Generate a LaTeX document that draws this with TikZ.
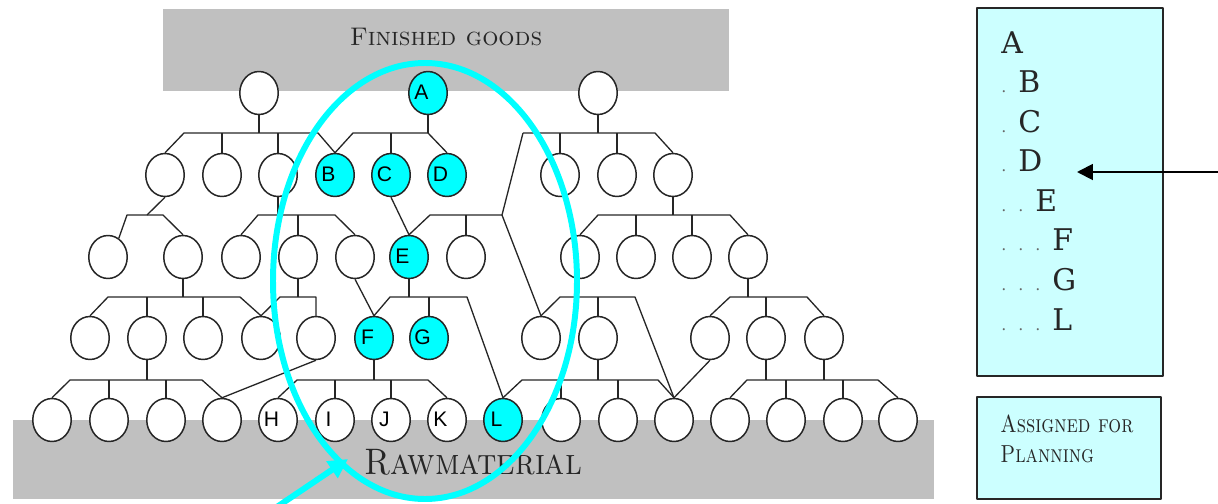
\documentclass[tikz,border=0pt]{standalone}
\usepackage{fontspec}
\usepackage{graphicx}
\newfontfamily\partfont{Liberation Sans}
\newfontfamily\listfont{DejaVu Serif}
\usetikzlibrary{arrows.meta,shapes.geometric}
\definecolor{ink}{HTML}{262626}
\definecolor{band}{HTML}{C0C0C0}
\definecolor{mark}{HTML}{00FFFF}
\definecolor{memo}{HTML}{CCFFFF}
\newcommand{\ldot}{\makebox[9.7pt][l]{\color{ink!70}\small.}}
\newcommand{\lvl}[2]{\ifcase#1\or\ldot\or\ldot\ldot\or\ldot\ldot\ldot\fi#2}
\tikzset{
  >=Latex,
  every picture/.style={line join=round},
  part/.style={ellipse, draw=ink, fill=white, line width=0.85pt,
    minimum width=0.77cm, minimum height=0.86cm, inner sep=0pt},
  tag/.style={font=\partfont\fontsize{12}{12}\selectfont, text=black,
    inner sep=0pt, xshift=-0.13cm, yshift=0.02cm},
  lettered/.style={part, label={[tag]center:#1}},
  planned/.style={part, fill=mark, label={[tag]center:#1}},
  wire/.style={draw=ink, line width=0.75pt},
  bandtxt/.style={font=\fontsize{14.5}{16}\selectfont, text=ink, inner sep=0pt},
  rawtxt/.style={font=\fontsize{21}{24}\selectfont, text=ink, inner sep=0pt},
  memobox/.style={draw=ink, fill=memo, line width=1.1pt, inner sep=0pt},
  listtxt/.style={font=\listfont\fontsize{17}{20}\selectfont, text=ink, inner sep=0pt, anchor=base west},
  memotxt/.style={font=\fontsize{14}{15}\selectfont, text=ink, inner sep=0pt, anchor=base west},
  pointer/.style={draw=black, line width=1.1pt, -{Triangle[length=9pt,width=9pt]}},
  ring/.style={draw=mark, line width=3.4pt},
  ringarrow/.style={draw=mark, line width=3.4pt, -{Triangle[length=11pt,width=11pt]}}
}
\begin{document}
\begin{tikzpicture}[x=0.02cm, y=-0.02cm]
  \clip (0,0) rectangle (1218,504);

  % stock bands
  \fill[band] (163,9) rectangle (729,91);
  \fill[band] (13,420) rectangle (934,499);
  \node[bandtxt, anchor=base] (fg) at (446,45) {\textsc{Finished goods}};
  \node[rawtxt] (rm) at (473,462) {\scalebox{0.89}[1]{\textsc{Rawmaterial}}};

  % product structure
  \foreach \n/\x in {t1/259, t3/598}
    \node[part] (\n) at (\x,93) {};
  \node[planned=A] (A) at (428,93) {};

  \foreach \n/\x in {p1/165, p2/222, p3/278, p7/560, p8/617, p9/673}
    \node[part] (\n) at (\x,175) {};
  \node[planned=B] (B) at (335,175) {};
  \node[planned=C] (C) at (391,175) {};
  \node[planned=D] (D) at (447,175) {};

  \foreach \n/\x in {s1/108, s2/183, s3/241, s4/298, s5/355, s7/466, s8/580, s9/636, s10/692, s11/748}
    \node[part] (\n) at (\x,257) {};
  \node[planned=E] (E) at (409,257) {};

  \foreach \n/\x in {m1/90, m2/147, m3/203, m4/261, m5/316, m8/541, m9/598, m10/710, m11/766, m12/824}
    \node[part] (\n) at (\x,338) {};
  \node[planned=F] (F) at (374,338) {};
  \node[planned=G] (G) at (429,338) {};

  \foreach \n/\x in {r1/52, r2/109, r3/166, r4/222, r10/561, r11/618, r12/674, r13/730, r14/786, r15/843, r16/898}
    \node[part] (\n) at (\x,420) {};
  \node[lettered=H] (H) at (278,420) {};
  \node[lettered=I] (I) at (335,420) {};
  \node[lettered=J] (J) at (391,420) {};
  \node[lettered=K] (K) at (447,420) {};
  \node[planned=L] (L) at (503,420) {};

  % junctions
  \coordinate (j1a) at (184,133);  \coordinate (j1b) at (318,133);
  \coordinate (j2a) at (353,133);  \coordinate (j2b) at (428,133);
  \coordinate (j3a) at (523,133);  \coordinate (j3b) at (655,133);
  \coordinate (j4a) at (127,215);  \coordinate (j4b) at (163,215); \coordinate (j4m) at (147,215);
  \coordinate (j5a) at (258,215);  \coordinate (j5b) at (335,215);
  \coordinate (j7a) at (430,215);  \coordinate (j7b) at (502,215);
  \coordinate (j8a) at (598,215);  \coordinate (j8b) at (730,215);
  \coordinate (j9a) at (108,297);  \coordinate (j9b) at (240,297);
  \coordinate (j10a) at (280,297); \coordinate (j10b) at (316,297);
  \coordinate (j11a) at (390,297); \coordinate (j11b) at (467,297);
  \coordinate (j12a) at (560,297); \coordinate (j12b) at (635,297);
  \coordinate (j13a) at (730,297); \coordinate (j13b) at (807,297);
  \coordinate (j14a) at (70,380);  \coordinate (j14b) at (202,380);
  \coordinate (j15a) at (297,380); \coordinate (j15b) at (428,380);
  \coordinate (j16a) at (522,380); \coordinate (j16b) at (658,380);
  \coordinate (j17a) at (747,380); \coordinate (j17b) at (878,380);

  % level 0 -> 1
  \draw[wire] (p1.north) -- (j1a) -- (j1b) -- (B.north);
  \foreach \n in {t1, p2, p3} \draw[wire] (\n) -- (\n |- j1a);
  \draw[wire] (B.north) -- (j2a) -- (j2b) -- (D.north);
  \foreach \n in {A, C} \draw[wire] (\n) -- (\n |- j2a);
  \draw[wire] (j3a) -- (j3b) -- (p9.north);
  \foreach \n in {t3, p7, p8} \draw[wire] (\n) -- (\n |- j3a);
  \draw[wire] (j3a) -- (j7b) -- (m8.north);

  % level 1 -> 2
  \draw[wire] (s1.60) -- (j4a) -- (j4b) -- (s2.north);
  \draw[wire] (p1.south) -- (j4m);
  \draw[wire] (s3.north) -- (j5a) -- (j5b) -- (s5.north);
  \foreach \n in {p3, s4} \draw[wire] (\n) -- (\n |- j5a);
  \draw[wire] (C.south) -- (E.north);
  \draw[wire] (E.north) -- (j7a) -- (j7b);
  \draw[wire] (s7) -- (s7 |- j7a);
  \draw[wire] (s8.north) -- (j8a) -- (j8b) -- (s11.north);
  \foreach \n in {p9, s9, s10} \draw[wire] (\n) -- (\n |- j8a);

  % level 2 -> 3
  \draw[wire] (m1.north) -- (j9a) -- (j9b) -- (m4.north);
  \foreach \n in {s2, m2, m3} \draw[wire] (\n) -- (\n |- j9a);
  \draw[wire] (m4.north) -- (j10a) -- (j10b) -- (m5.north);
  \draw[wire] (s4) -- (s4 |- j10a);
  \draw[wire] (s5.south) -- (F.north);
  \draw[wire] (F.north) -- (j11a) -- (j11b) -- (L.north);
  \foreach \n in {E, G} \draw[wire] (\n) -- (\n |- j11a);
  \draw[wire] (m8.north) -- (j12a) -- (j12b) -- (r12.north);
  \draw[wire] (s8.265) -- (s8.265 |- j12a);
  \draw[wire] (m9) -- (m9 |- j12a);
  \draw[wire] (m10.north) -- (j13a) -- (j13b) -- (m12.north);
  \foreach \n in {s11, m11} \draw[wire] (\n) -- (\n |- j13a);

  % level 3 -> 4
  \draw[wire] (r1.north) -- (j14a) -- (j14b) -- (r4.north);
  \foreach \n in {m2, r2, r3} \draw[wire] (\n) -- (\n |- j14a);
  \draw[wire] (m5.south) -- (r4.north);
  \draw[wire] (H.north) -- (j15a) -- (j15b) -- (K.north);
  \foreach \n in {F, I, J} \draw[wire] (\n) -- (\n |- j15a);
  \draw[wire] (L.north) -- (j16a) -- (j16b) -- (r12.north);
  \foreach \n in {m9, r10, r11} \draw[wire] (\n) -- (\n |- j16a);
  \draw[wire] (m10.south) -- (r12.north);
  \draw[wire] (r13.north) -- (j17a) -- (j17b) -- (r16.north);
  \foreach \n in {m11, m12, r14, r15} \draw[wire] (\n) -- (\n |- j17a);

  % planning list
  \node[memobox, minimum width=3.72cm, minimum height=7.36cm] (list) at (1070,192) {};
  \foreach \n/\d/\t/\y in {lA/0/A/53, lB/1/B/92.6, lC/1/C/132.1, lD/1/D/171.7,
                           lE/2/E/211.3, lF/3/F/250.9, lG/3/G/290.4, lL/3/L/330}
    \node[listtxt] (\n) at (1001,\y) {\lvl{\d}{\t}};
  \node[memobox, minimum width=3.68cm, minimum height=2.04cm] (key) at (1069,448) {};
  \node[memotxt] (key1) at (1000,432) {\scalebox{0.82}[1]{\textsc{Assigned for}}};
  \node[memotxt] (key2) at (1000,462) {\scalebox{0.82}[1]{\textsc{Planning}}};

  \coordinate (src) at (1218,172);
  \coordinate (dst) at (1077,172);
  \draw[pointer] (src) -- (dst);

  % planned set
  \draw[ring] (425,281) ellipse [x radius=152, y radius=218];
  \coordinate (tail) at (262,517);
  \coordinate (tip) at (348,459);
  \draw[ringarrow] (tail) -- (tip);
\end{tikzpicture}
\end{document}
